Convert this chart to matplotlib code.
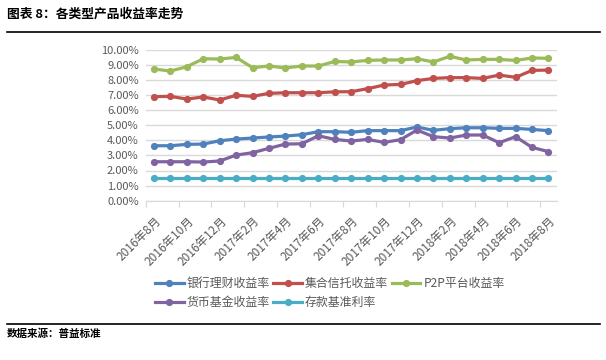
import matplotlib
matplotlib.use('Agg')
import matplotlib.pyplot as plt
import matplotlib.transforms as mtransforms
from matplotlib.lines import Line2D

plt.rcParams['font.family'] = ['Noto Sans CJK SC', 'DejaVu Sans']

# 月份（2016年8月 - 2018年8月）
months = []
for y, m in [(2016, m) for m in range(8, 13)] + [(2017, m) for m in range(1, 13)] + [(2018, m) for m in range(1, 9)]:
    months.append(f'{y}年{m}月')

# 各产品收益率（%）
bank = [3.64, 3.64, 3.73, 3.75, 3.97, 4.08, 4.15, 4.22, 4.28, 4.37, 4.57, 4.57,
        4.53, 4.64, 4.64, 4.64, 4.88, 4.66, 4.77, 4.83, 4.83, 4.79, 4.79, 4.72, 4.64]
trust = [6.89, 6.91, 6.73, 6.87, 6.67, 6.98, 6.91, 7.11, 7.15, 7.15, 7.15, 7.21,
         7.22, 7.42, 7.66, 7.70, 7.95, 8.10, 8.15, 8.15, 8.10, 8.32, 8.17, 8.63, 8.65]
p2p = [8.72, 8.59, 8.87, 9.40, 9.38, 9.49, 8.81, 8.92, 8.79, 8.92, 8.92, 9.22,
       9.19, 9.29, 9.32, 9.32, 9.40, 9.19, 9.56, 9.32, 9.36, 9.36, 9.29, 9.45, 9.43]
money = [2.58, 2.58, 2.58, 2.56, 2.63, 3.02, 3.18, 3.47, 3.75, 3.77, 4.30, 4.06,
         3.95, 4.06, 3.86, 4.04, 4.68, 4.24, 4.15, 4.35, 4.35, 3.84, 4.24, 3.53, 3.25]
deposit = [1.50] * 25

series = [
    ('银行理财收益率', bank, '#4F81BD'),
    ('集合信托收益率', trust, '#C0504D'),
    ('P2P平台收益率', p2p, '#9BBB59'),
    ('货币基金收益率', money, '#8064A2'),
    ('存款基准利率', deposit, '#4BACC6'),
]

fig = plt.figure(figsize=(6.06, 3.6), dpi=100)
ax = fig.add_axes([145.7 / 606, 1 - 200.7 / 360, 411 / 606, 151 / 360])

x = list(range(len(months)))
handles = []
for name, vals, color in series:
    h, = ax.plot(x, vals, color=color, lw=2.3, marker='o', markersize=5.2,
                 markeredgewidth=0, label=name)
    handles.append(h)

# 坐标轴
ax.set_xlim(-0.5, len(months) - 0.5)
ax.set_ylim(0, 10)
ax.set_yticks(range(0, 11))
ax.set_yticklabels([f'{v:.2f}%' for v in range(0, 11)])
ax.grid(axis='y', color='#D9D9D9', lw=1)
ax.set_axisbelow(True)
for s in ['left', 'right', 'top']:
    ax.spines[s].set_visible(False)
ax.spines['bottom'].set_color('#D9D9D9')
ax.tick_params(axis='y', length=0, pad=5, labelsize=8, labelcolor='#595959')

# x轴：刻度线在类别之间，标签每两个月一个
ax.set_xticks([i - 0.5 for i in range(0, 25, 2)][:13])
ax.set_xticklabels([])
ax.tick_params(axis='x', which='major', length=4, color='#D9D9D9')
ax.set_xticks(x[::2], months[::2], minor=True)
ax.tick_params(axis='x', which='minor', length=0, pad=13, labelsize=8.5, labelcolor='#595959')
offset = mtransforms.ScaledTranslation(5 / 100, 0, fig.dpi_scale_trans)
for lab in ax.get_xticklabels(minor=True):
    lab.set_rotation(45)
    lab.set_ha('right')
    lab.set_va('center')
    lab.set_rotation_mode('anchor')
    lab.set_transform(lab.get_transform() + offset)

# 图例（按行排列）
order = [0, 3, 1, 4, 2]
fig.legend([handles[i] for i in order], [series[i][0] for i in order],
           loc='upper left', bbox_to_anchor=(155 / 606, 1 - 277 / 360), ncol=3,
           frameon=False, fontsize=8.6, handlelength=2.4, handletextpad=0.25,
           columnspacing=0.3, labelspacing=0.5, borderpad=0, borderaxespad=0,
           labelcolor='#595959')

# 标题、分隔线和数据来源
fig.text(7 / 606, 1 - 14.5 / 360, '图表 8：各类型产品收益率走势', fontsize=9.2,
         fontweight='bold', va='center', ha='left')
fig.add_artist(Line2D([7 / 606, 600 / 606], [1 - 32 / 360] * 2, color='black', lw=1.2))
fig.add_artist(Line2D([7 / 606, 600 / 606], [1 - 324 / 360] * 2, color='black', lw=1.2))
fig.text(7 / 606, 1 - 333.5 / 360, '数据来源：普益标准', fontsize=7.6,
         fontweight='bold', va='center', ha='left')

fig.savefig('out.png', dpi=100)
plt.close(fig)
